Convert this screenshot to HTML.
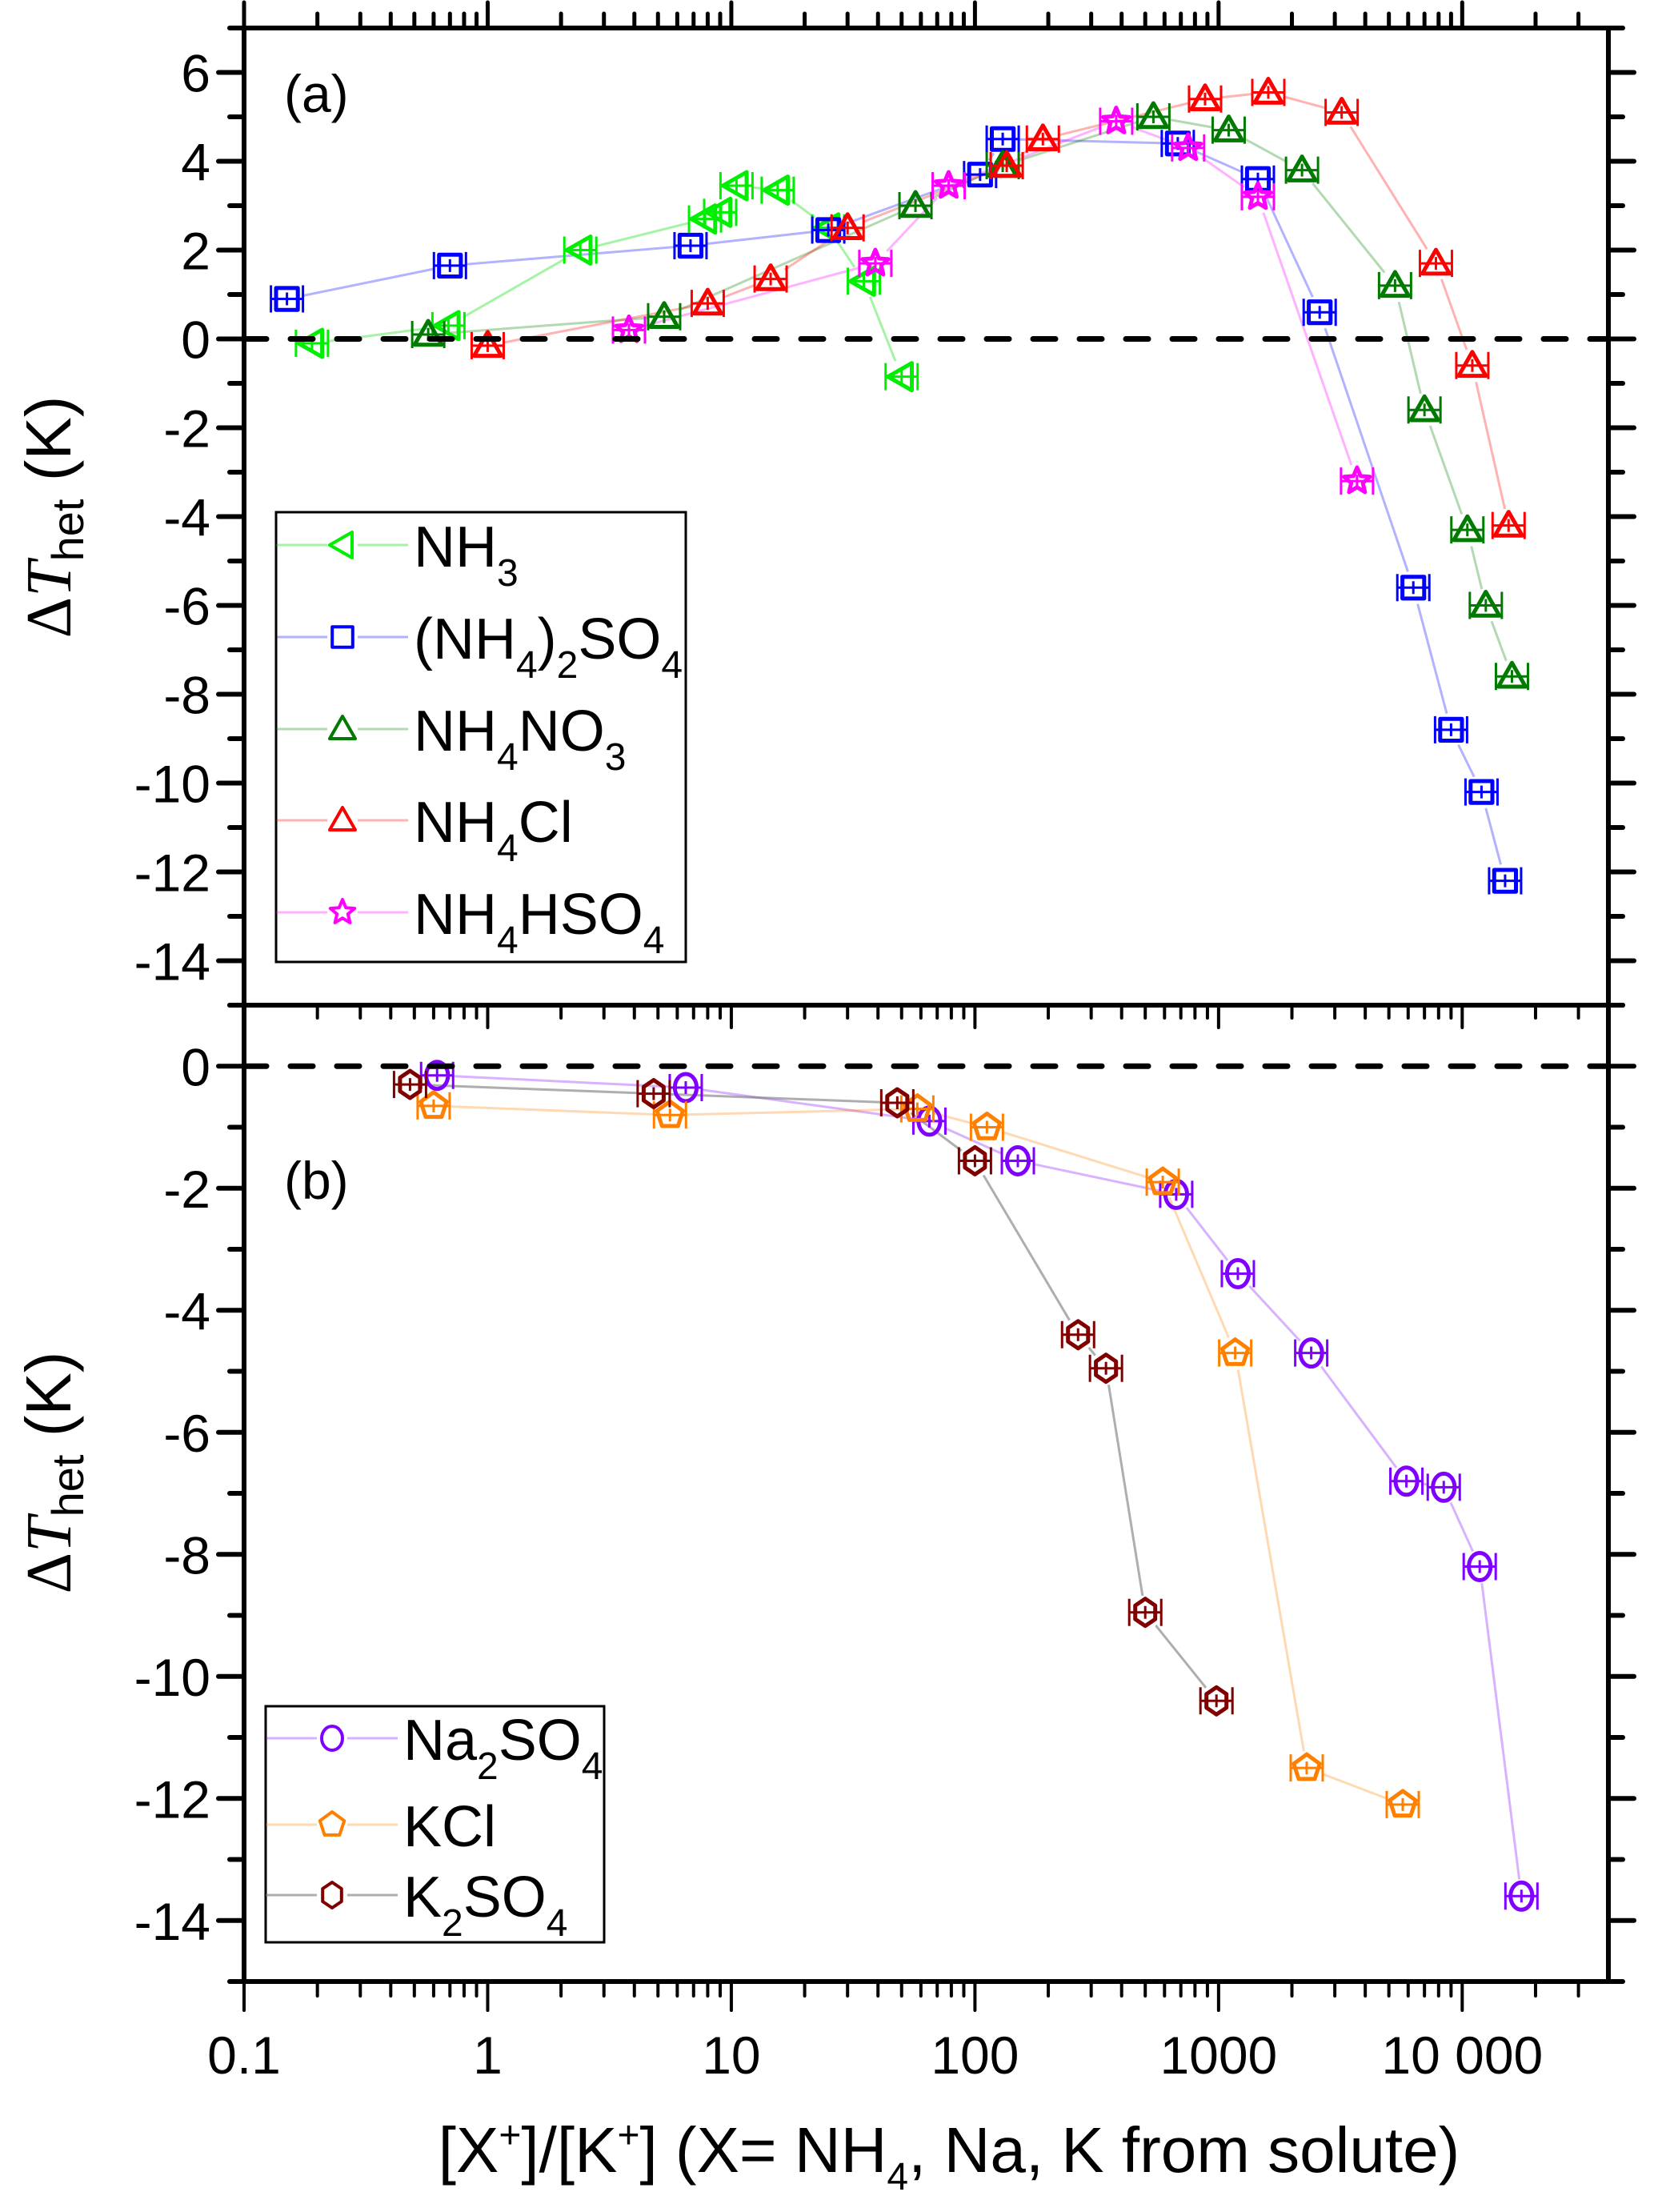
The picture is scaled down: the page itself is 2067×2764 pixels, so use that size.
<!DOCTYPE html>
<html><head><meta charset="utf-8">
<style>
html,body{margin:0;padding:0;background:#fff;}
svg{display:block;font-family:"Liberation Sans",Arial,sans-serif;}
</style></head>
<body>
<svg id="chart" width="2067" height="2764" viewBox="0 0 2067 2764" xmlns="http://www.w3.org/2000/svg">
<g id="g-lines"></g><g id="g-marks"></g><g id="g-axes"></g><g id="g-text"></g>
</svg>
<script>
// ---- data ----
const nh3X = [0.19, 0.69, 2.4, 7.8, 9.0, 10.5, 15.5, 25, 35, 50];
const nh3Y = [-0.1, 0.3, 2.0, 2.7, 2.85, 3.45, 3.35, 2.5, 1.3, -0.85];
const asX = [0.15, 0.7, 6.8, 25, 105, 130, 680, 1450, 2600, 6300, 9000, 12000, 15000];
const asY = [0.9, 1.65, 2.1, 2.45, 3.7, 4.5, 4.4, 3.6, 0.6, -5.6, -8.8, -10.2, -12.2];
const anX = [0.57, 5.3, 57, 130, 540, 1100, 2200, 5300, 7000, 10500, 12500, 16000];
const anY = [0.1, 0.5, 3.0, 3.9, 5.0, 4.7, 3.8, 1.2, -1.6, -4.3, -6.0, -7.6];
const acX = [1.0, 8, 14.5, 30, 135, 190, 880, 1600, 3200, 7800, 11000, 15500];
const acY = [-0.15, 0.8, 1.35, 2.5, 3.9, 4.5, 5.4, 5.55, 5.1, 1.7, -0.6, -4.2];
const abX = [3.8, 39, 78, 380, 750, 1450, 3700];
const abY = [0.2, 1.7, 3.45, 4.9, 4.3, 3.2, -3.2];
const naX = [0.62, 6.5, 65, 150, 670, 1200, 2400, 5900, 8400, 11800, 17500];
const naY = [-0.15, -0.35, -0.9, -1.55, -2.1, -3.4, -4.7, -6.8, -6.9, -8.2, -13.6];
const kcX = [0.6, 5.6, 58, 112, 590, 1170, 2300, 5700];
const kcY = [-0.65, -0.8, -0.7, -1.0, -1.9, -4.7, -11.5, -12.1];
const ksX = [0.48, 4.8, 48, 100, 265, 345, 500, 980];
const ksY = [-0.3, -0.45, -0.6, -1.55, -4.4, -4.95, -8.95, -10.4];
const yTicksA = [6, 4, 2, 0, -2, -4, -6, -8, -10, -12, -14];
const yTicksB = [0, -2, -4, -6, -8, -10, -12, -14];
const xTickLabels = ["0.1", "1", "10", "100", "1000", "10 000"];
const xTickVals = [0.1, 1, 10, 100, 1000, 10000];

// ---- geometry ----
const L = 305, R = 2010, XMIN = -1, XMAX = 4.6;
const A = {top: 35, bot: 1256, ymax: 7, ymin: -15};
const B = {top: 1256, bot: 2476, ymax: 1, ymin: -15};
function sx(v){ return L + (Math.log10(v) - XMIN) / (XMAX - XMIN) * (R - L); }
function sy(p, v){ return p.top + (p.ymax - v) / (p.ymax - p.ymin) * (p.bot - p.top); }
const NS = "http://www.w3.org/2000/svg";
function mk(tag, attrs, parent){ const e = document.createElementNS(NS, tag); for (const k in attrs) e.setAttribute(k, attrs[k]); document.getElementById(parent).appendChild(e); return e; }

function markerPath(shape, cx, cy, r){
  let pts = [];
  if (shape === 'ltri'){ pts = [[cx - r, cy], [cx + r*0.75, cy - r], [cx + r*0.75, cy + r]]; }
  else if (shape === 'tri'){ pts = [[cx, cy - r], [cx + r, cy + r*0.75], [cx - r, cy + r*0.75]]; }
  else if (shape === 'sq'){ const s = r*0.8; pts = [[cx - s, cy - s], [cx + s, cy - s], [cx + s, cy + s], [cx - s, cy + s]]; }
  else if (shape === 'pent'){ for (let i = 0; i < 5; i++){ const a = -Math.PI/2 + i*2*Math.PI/5; pts.push([cx + r*Math.cos(a), cy + r*Math.sin(a)]); } }
  else if (shape === 'hex'){ for (let i = 0; i < 6; i++){ const a = -Math.PI/2 + i*Math.PI/3; pts.push([cx + r*0.85*Math.cos(a), cy + r*Math.sin(a)]); } }
  else if (shape === 'star'){ for (let i = 0; i < 10; i++){ const a = -Math.PI/2 + i*Math.PI/5; const rr = i % 2 ? r*0.45 : r; pts.push([cx + rr*Math.cos(a), cy + rr*Math.sin(a)]); } }
  return 'M' + pts.map(p => p[0].toFixed(1) + ',' + p[1].toFixed(1)).join('L') + 'Z';
}
function drawMarker(shape, cx, cy, r, color, name){
  let e;
  if (shape === 'circ'){ e = mk('ellipse', {cx: cx, cy: cy, rx: r*0.8, ry: r, fill: 'none', stroke: color, 'stroke-width': 5}, 'g-marks'); }
  else { e = mk('path', {d: markerPath(shape, cx, cy, r), fill: 'none', stroke: color, 'stroke-width': 5, 'stroke-linejoin': 'round'}, 'g-marks'); }
  
  
}

function series(xs, ys, panel, shape, color, lineColor, key){
  const r = 17;
  const P = xs.map((x, i) => [sx(x), sy(panel, ys[i])]);
  for (let i = 0; i < P.length - 1; i++){
    const [x1, y1] = P[i], [x2, y2] = P[i+1];
    const d = Math.hypot(x2 - x1, y2 - y1);
    if (d < 2*r + 4) continue;
    const ux = (x2 - x1)/d, uy = (y2 - y1)/d;
    const ln = mk('line', {x1: x1 + ux*(r+4), y1: y1 + uy*(r+4), x2: x2 - ux*(r+4), y2: y2 - uy*(r+4), stroke: lineColor, 'stroke-width': 3}, 'g-lines');
    
    
  }
  P.forEach(([cx, cy], i) => {
    const eb = mk('path', {d: `M${cx-20},${cy}H${cx+20}M${cx-20},${cy-r}V${cy+r}M${cx+20},${cy-r}V${cy+r}M${cx},${cy-8}V${cy+8}`, stroke: color, 'stroke-width': 3, fill: 'none'}, 'g-marks');
    
    
    drawMarker(shape, cx, cy, r, color, key + '-point');
  });
}

series(nh3X, nh3Y, A, 'ltri', '#00ee00', 'rgba(0,220,0,0.35)', 'nh3');
series(asX, asY, A, 'sq', '#0000ff', 'rgba(0,0,255,0.3)', 'ammonium-sulfate');
series(anX, anY, A, 'tri', '#007a00', 'rgba(0,128,0,0.3)', 'ammonium-nitrate');
series(acX, acY, A, 'tri', '#ff0000', 'rgba(255,0,0,0.3)', 'ammonium-chloride');
series(abX, abY, A, 'star', '#ff00ff', 'rgba(255,0,255,0.3)', 'ammonium-bisulfate');
series(naX, naY, B, 'circ', '#8000ff', 'rgba(128,0,255,0.3)', 'sodium-sulfate');
series(kcX, kcY, B, 'pent', '#ff8000', 'rgba(255,128,0,0.3)', 'potassium-chloride');
series(ksX, ksY, B, 'hex', '#800000', 'rgba(120,120,120,0.6)', 'potassium-sulfate');

[A, B].forEach((p, i) => {
  const z = mk('line', {x1: L, x2: R, y1: sy(p, 0), y2: sy(p, 0), stroke: '#000', 'stroke-width': 7, 'stroke-dasharray': '28,30', 'stroke-linecap': 'round'}, 'g-axes');
  
  
});

function line(x1, y1, x2, y2, w, name){
  const e = mk('line', {x1: x1, y1: y1, x2: x2, y2: y2, stroke: '#000', 'stroke-width': w, 'stroke-linecap': 'round'}, 'g-axes');
  
  
}
line(L, A.top, R, A.top, 6, 'top-axis');
line(L, B.bot, R, B.bot, 6, 'x-axis');
line(L, A.top, L, B.bot, 6, 'left-axis');
line(R, A.top, R, B.bot, 6, 'right-axis');
line(L - 15, B.top, R, B.top, 6, 'panel-divider');

for (let d = -1; d <= 4; d++){
  for (let m = 1; m <= 9; m++){
    const v = m * Math.pow(10, d);
    if (Math.log10(v) > XMAX) continue;
    const x = sx(v), major = (m === 1);
    line(x, A.top, x, A.top - (major ? 32 : 18), 5, 'top-tick');
    line(x, B.bot, x, B.bot + (major ? 36 : 18), 4, 'bottom-tick');
    line(x, B.top, x, B.top + (major ? 28 : 16), 4, 'divider-tick');
  }
}
function yticks(p, name){
  for (let v = p.ymax; v >= p.ymin; v--){
    const y = sy(p, v), major = (v % 2 === 0);
    line(L, y, L - (major ? 32 : 18), y, 6, name + '-tick');
    line(R, y, R + (major ? 32 : 18), y, 6, name + '-right-tick');
  }
}
yticks(A, 'y-a'); yticks(B, 'y-b');

function txt(x, y, s, size, anchor, name, extra){
  const e = mk('text', Object.assign({x: x, y: y, 'font-size': size, 'text-anchor': anchor, fill: '#000'}, extra || {}), 'g-text');
  e.innerHTML = s;
  
  
  return e;
}
yTicksA.forEach(v => txt(L - 42, sy(A, v) + 24, String(v), 66, 'end', 'y-tick-label-a'));
yTicksB.forEach(v => txt(L - 42, sy(B, v) + 24, String(v), 66, 'end', 'y-tick-label-b'));
xTickVals.forEach((v, i) => txt(sx(v), B.bot + 115, xTickLabels[i], 66, 'middle', 'x-tick-label'));

txt(355, 140, '(a)', 66, 'start', 'panel-label-a');
txt(355, 1498, '(b)', 66, 'start', 'panel-label-b');

[[646, 'y-axis-title-a'], [1840, 'y-axis-title-b']].forEach(([cy, nm]) => {
  txt(0, 0, '<tspan font-family="Liberation Serif">Δ</tspan><tspan font-family="Liberation Serif" font-style="italic">T</tspan><tspan font-size="56" dy="16">het</tspan><tspan dy="-16"> (K)</tspan>', 80, 'middle', nm, {transform: `translate(88,${cy}) rotate(-90)`});
});
txt(1186, 2714, '[X<tspan font-size="48" dy="-30">+</tspan><tspan dy="30">]/[K</tspan><tspan font-size="48" dy="-30">+</tspan><tspan dy="30">] (X= NH</tspan><tspan font-size="48" dy="22">4</tspan><tspan dy="-22">, Na, K from solute)</tspan>', 80, 'middle', 'x-axis-title');

function legend(box, entries, name){
  const r = mk('rect', {x: box[0], y: box[1], width: box[2], height: box[3], fill: '#fff', stroke: '#000', 'stroke-width': 3}, 'g-text');
  
  
  entries.forEach(en => {
    const y = en.y, x0 = box[0];
    const l1 = mk('line', {x1: x0, x2: x0 + 165, y1: y, y2: y, stroke: en.lc, 'stroke-width': 3}, 'g-text');
    
    
    const bg = mk('rect', {x: x0 + 64, y: y - 22, width: 38, height: 44, fill: '#fff'}, 'g-text');
    
    
    const e = en.shape === 'circ' ? mk('ellipse', {cx: x0 + 83, cy: y, rx: 13, ry: 15, fill: 'none', stroke: en.c, 'stroke-width': 4}, 'g-text')
      : mk('path', {d: markerPath(en.shape, x0 + 83, y, 16), fill: 'none', stroke: en.c, 'stroke-width': 4, 'stroke-linejoin': 'round'}, 'g-text');
    
    
    txt(x0 + 172, y + 27, en.label, 72, 'start', 'legend-entry');
  });
}
const sub = s => `<tspan font-size="48" dy="24">${s}</tspan><tspan dy="-24">`;
legend([345, 640, 512, 562], [
  {y: 681, shape: 'ltri', c: '#00ee00', lc: 'rgba(0,220,0,0.35)', label: 'NH' + sub('3') + '</tspan>'},
  {y: 796, shape: 'sq', c: '#0000ff', lc: 'rgba(0,0,255,0.3)', label: '(NH' + sub('4') + ')</tspan>' + sub('2') + 'SO</tspan>' + sub('4') + '</tspan>'},
  {y: 911, shape: 'tri', c: '#007a00', lc: 'rgba(0,128,0,0.3)', label: 'NH' + sub('4') + 'NO</tspan>' + sub('3') + '</tspan>'},
  {y: 1025, shape: 'tri', c: '#ff0000', lc: 'rgba(255,0,0,0.3)', label: 'NH' + sub('4') + 'Cl</tspan>'},
  {y: 1140, shape: 'star', c: '#ff00ff', lc: 'rgba(255,0,255,0.3)', label: 'NH' + sub('4') + 'HSO</tspan>' + sub('4') + '</tspan>'}
], 'legend-a');
legend([332, 2132, 423, 295], [
  {y: 2172, shape: 'circ', c: '#8000ff', lc: 'rgba(128,0,255,0.3)', label: 'Na' + sub('2') + 'SO</tspan>' + sub('4') + '</tspan>'},
  {y: 2280, shape: 'pent', c: '#ff8000', lc: 'rgba(255,128,0,0.3)', label: 'KCl'},
  {y: 2368, shape: 'hex', c: '#800000', lc: 'rgba(120,120,120,0.6)', label: 'K' + sub('2') + 'SO</tspan>' + sub('4') + '</tspan>'}
], 'legend-b');
</script>
</body></html>
